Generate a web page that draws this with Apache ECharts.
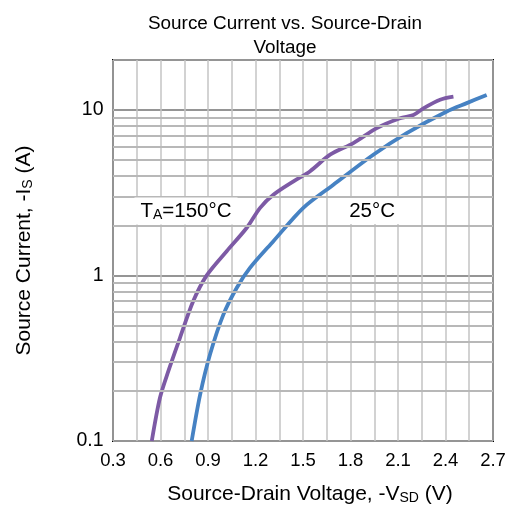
<!DOCTYPE html>
<html><head><meta charset="utf-8">
<script src="https://cdn.jsdelivr.net/npm/echarts@6/dist/echarts.min.js"></script>
<style>html,body{margin:0;padding:0;background:#fff}#c{width:509px;height:510px}</style>
</head><body><div id="c"></div>
<script>
// Data
const v150 = [0.545,0.597,0.65,0.723,0.807,0.892,1.018,1.145,1.229,1.313,1.44,1.545,1.671,1.818,1.966,2.113,2.197,2.26,2.366,2.45];
const i150 = [0.1,0.183,0.265,0.42,0.70,1.0,1.40,1.94,2.56,3.07,3.70,4.26,5.36,6.3,7.76,8.9,9.3,10.2,11.5,12.0];
const v25 = [0.797,0.85,0.913,0.997,1.081,1.165,1.313,1.502,1.692,1.944,2.155,2.408,2.534,2.66];
const i25 = [0.1,0.19,0.334,0.58,0.84,1.11,1.61,2.56,3.53,5.36,7.24,9.78,10.98,12.3];
const xTickLabels = ['0.3','0.6','0.9','1.2','1.5','1.8','2.1','2.4','2.7'];
const yTickLabels = [0.1, 1, 10];
const yMinor = [0.2,0.3,0.4,0.5,0.6,0.7,0.8,0.9,2,3,4,5,6,7,8,9];
const annotations = [
  {name:'150', coord:[0.761, 2.45], text:'{a|T}{s|A}{a|=150°C}'},
  {name:'25', coord:[1.936, 2.45], text:'{a|25°C}'}
];

const FONT = 'Liberation Sans, Arial, sans-serif';
const chart = echarts.init(document.getElementById('c'), null, {renderer:'canvas'});
const zip = (xs, ys) => xs.map((x, k) => [x, ys[k]]);

chart.setOption({
  animation: false,
  backgroundColor: '#fff',
  title: {
    text: 'Source Current vs. Source-Drain\nVoltage',
    left: 280, top: 7, textAlign: 'center',
    textStyle: {fontFamily: FONT, fontSize: 18.9, fontWeight: 'normal', color: '#000', lineHeight: 24}
  },
  grid: {left: 113, right: 16, top: 60, bottom: 69, show: true, borderColor: '#000', borderWidth: 2, backgroundColor: 'transparent'},
  xAxis: {
    type: 'value', min: 0.3, max: 2.7, interval: 0.3,
    axisLine: {show: false}, axisTick: {show: false},
    axisLabel: {margin: 10, color: '#000', fontFamily: FONT, fontSize: 18.5,
      formatter: v => xTickLabels.find(t => Math.abs(parseFloat(t) - v) < 1e-6) || ''},
    splitLine: {show: true, lineStyle: {color: '#c4c4c4', width: 1.5}},
    minorTick: {show: false, splitNumber: 2},
    minorSplitLine: {show: true, lineStyle: {color: '#c4c4c4', width: 1.5}},
    name: 'Source-Drain Voltage, -V{s|SD} {a|(V)}',
    nameLocation: 'middle', nameGap: 42,
    nameTextStyle: {color: '#000', fontFamily: FONT, fontSize: 21, padding: [0, 0, 0, 14],
      rich: {a: {fontFamily: FONT, fontSize: 21, color: '#000'}, s: {fontFamily: FONT, fontSize: 14, color: '#000', padding: [8,0,0,0]}}}
  },
  yAxis: {
    type: 'log', logBase: 10, min: 0.1, max: 20,
    axisLine: {show: false}, axisTick: {show: false},
    axisLabel: {margin: 9.5, color: '#000', fontFamily: FONT, fontSize: 19.5,
      formatter: v => { const t = yTickLabels.find(t => Math.abs(t - v) / t < 1e-6); return t === undefined ? '' : String(t); }},
    splitLine: {show: true, lineStyle: {color: '#959595', width: 2}},
    name: 'Source Current, -I{s|S} {a|(A)}',
    nameLocation: 'middle', nameGap: 78, nameRotate: 90,
    nameTextStyle: {color: '#000', fontFamily: FONT, fontSize: 21,
      rich: {a: {fontFamily: FONT, fontSize: 21, color: '#000'}, s: {fontFamily: FONT, fontSize: 14, color: '#000', padding: [8,0,0,0]}}}
  },
  series: [
    {
      type: 'line', name: 'grid', data: [], z: 1, silent: true,
      markLine: {
        silent: true, symbol: ['none','none'], animation: false,
        label: {show: false},
        lineStyle: {type: 'solid', color: '#b8b8b8', width: 2},
        data: yMinor.map(v => ({yAxis: v}))
      }
    },
    {
      type: 'line', name: 'TA=150°C', data: zip(v150, i150), smooth: 0.3, showSymbol: false, z: 3,
      lineStyle: {color: '#7d5aa5', width: 3.8}, itemStyle: {color: '#7d5aa5'}
    },
    {
      type: 'line', name: '25°C', data: zip(v25, i25), smooth: 0.3, showSymbol: false, z: 3,
      lineStyle: {color: '#4682c3', width: 3.8}, itemStyle: {color: '#4682c3'}
    },
    {
      type: 'line', name: 'labels', data: [], z: 5, silent: true,
      markPoint: {
        symbol: 'rect', symbolSize: 1, itemStyle: {color: 'rgba(0,0,0,0)'},
        label: {show: true, position: 'inside', backgroundColor: '#fff', padding: [3, 6, 2, 6],
          formatter: p => annotations[p.dataIndex].text,
          rich: {a: {fontFamily: FONT, fontSize: 20.5, color: '#000'}, s: {fontFamily: FONT, fontSize: 14, color: '#000', padding: [8,0,0,0]}}},
        data: annotations.map(a => ({name: a.name, coord: a.coord}))
      }
    }
  ]
});
</script></body></html>
